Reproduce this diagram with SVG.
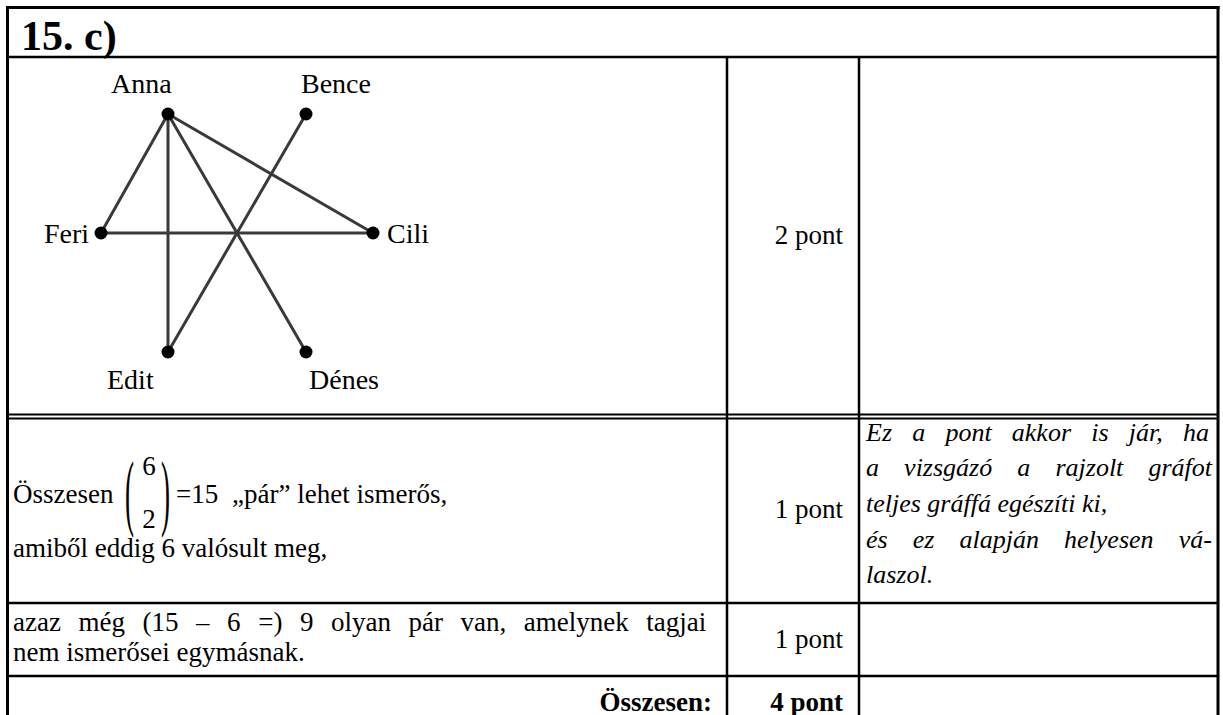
<svg xmlns="http://www.w3.org/2000/svg" width="1223" height="715" viewBox="0 0 1223 715">
  <style>
    text { font-family: "Liberation Serif", "Times New Roman", serif; fill: #000; }
    .lbl { font-size: 28px; }
    .body { font-size: 27px; }
    .it { font-size: 26px; font-style: italic; }
    .b { font-weight: bold; font-size: 27px; text-anchor: end; }
    .title { font-weight: bold; font-size: 42px; }
    .pt { font-size: 27px; text-anchor: end; }
    .rule { stroke: #000; stroke-width: 2.5; fill: none; }
    .frame { stroke: #000; stroke-width: 3; fill: none; }
    .thin { stroke: #000; stroke-width: 2; fill: none; }
    .edge { stroke: #3a3a3a; stroke-width: 3; stroke-linecap: round; }
    .dot { fill: #000; }
  </style>

  <rect width="1223" height="715" fill="#fff"/>

  <!-- table frame and cell rules -->
  <g id="table">
    <line class="frame" x1="7.5" y1="6" x2="7.5" y2="715"/>
    <line class="frame" x1="1218" y1="6" x2="1218" y2="715"/>
    <line class="frame" x1="6" y1="7.5" x2="1219.5" y2="7.5"/>
    <line class="rule" x1="7" y1="57" x2="1218" y2="57"/>
    <line class="rule" x1="727" y1="57" x2="727" y2="715"/>
    <line class="rule" x1="859" y1="57" x2="859" y2="715"/>
    <line class="thin" x1="7" y1="414.5" x2="1218" y2="414.5"/>
    <line class="thin" x1="7" y1="418.5" x2="1218" y2="418.5"/>
    <line class="rule" x1="7" y1="603" x2="1218" y2="603"/>
    <line class="rule" x1="7" y1="676" x2="1218" y2="676"/>
  </g>

  <text class="title" x="21" y="50">15. c)</text>

  <!-- acquaintance graph: edges -->
  <g id="connectors">
    <line class="edge" x1="168" y1="114" x2="101" y2="233"/>
    <line class="edge" x1="168" y1="114" x2="168" y2="352"/>
    <line class="edge" x1="168" y1="114" x2="306" y2="352"/>
    <line class="edge" x1="168" y1="114" x2="373" y2="233"/>
    <line class="edge" x1="101" y1="233" x2="373" y2="233"/>
    <line class="edge" x1="306" y1="114" x2="168" y2="352"/>
  </g>

  <!-- acquaintance graph: people -->
  <g id="anna">
    <circle class="dot" cx="168" cy="114" r="6.5"/>
    <text class="lbl" x="111" y="93">Anna</text>
  </g>
  <g id="bence">
    <circle class="dot" cx="306" cy="114" r="6.5"/>
    <text class="lbl" x="301" y="93">Bence</text>
  </g>
  <g id="feri">
    <circle class="dot" cx="101" cy="233" r="6.5"/>
    <text class="lbl" x="89" y="243" text-anchor="end">Feri</text>
  </g>
  <g id="cili">
    <circle class="dot" cx="373" cy="233" r="6.5"/>
    <text class="lbl" x="387" y="243">Cili</text>
  </g>
  <g id="edit">
    <circle class="dot" cx="168" cy="352" r="6.5"/>
    <text class="lbl" x="107" y="389">Edit</text>
  </g>
  <g id="denes">
    <circle class="dot" cx="306" cy="352" r="6.5"/>
    <text class="lbl" x="309" y="389">Dénes</text>
  </g>

  <text class="pt" x="843" y="244">2 pont</text>

  <!-- row: number of possible pairs -->
  <text class="body" x="13" y="503">Összesen</text>
  <text class="body" transform="translate(125 520) scale(1 3.1)">(</text>
  <text class="body" x="149" y="475" text-anchor="middle">6</text>
  <text class="body" x="149" y="528" text-anchor="middle">2</text>
  <text class="body" transform="translate(161 520) scale(1 3.1)">)</text>
  <text class="body" x="176" y="503">=15</text>
  <text class="body" x="232" y="503">„pár” lehet ismerős,</text>
  <text class="body" x="13" y="557">amiből eddig 6 valósult meg,</text>
  <text class="pt" x="843" y="518">1 pont</text>

  <text class="it" x="866" y="441" word-spacing="13.7">Ez a pont akkor is jár, ha</text>
  <text class="it" x="866" y="476" word-spacing="18.6">a vizsgázó a rajzolt gráfot</text>
  <text class="it" x="866" y="512">teljes gráffá egészíti ki,</text>
  <text class="it" x="866" y="548" word-spacing="18.6">és ez alapján helyesen vá-</text>
  <text class="it" x="866" y="583">laszol.</text>

  <!-- row: remaining pairs -->
  <text class="body" x="13" y="631" word-spacing="10.8">azaz még (15 – 6 =) 9 olyan pár van, amelynek tagjai</text>
  <text class="body" x="13" y="661">nem ismerősei egymásnak.</text>
  <text class="pt" x="843" y="648">1 pont</text>

  <!-- total -->
  <text class="b" x="712" y="711">Összesen:</text>
  <text class="b" x="843" y="711">4 pont</text>
</svg>
